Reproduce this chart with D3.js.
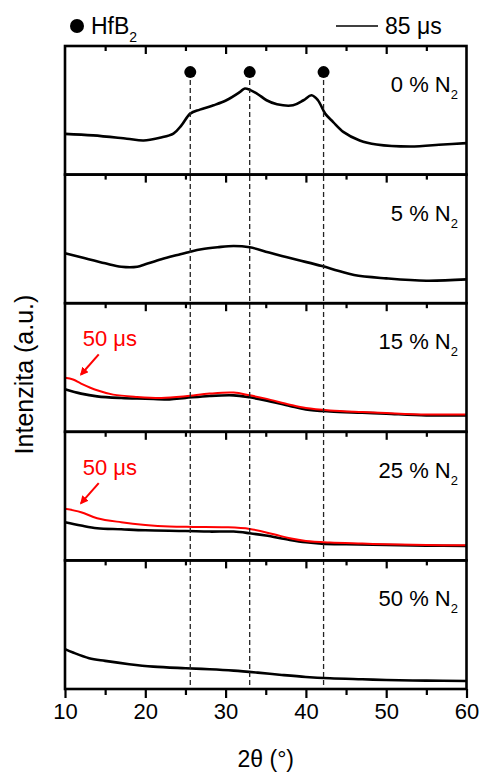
<!DOCTYPE html>
<html>
<head>
<meta charset="utf-8">
<script src="https://cdn.jsdelivr.net/npm/d3@7"></script>
<style>
  body { margin: 0; background: #fff; }
  svg text { font-family: "Liberation Sans", Arial, sans-serif; }
</style>
</head>
<body>
<svg id="chart" width="480" height="773"></svg>
<script>
// N2 content of each panel, top to bottom
var panelLabels = ["0", "5", "15", "25", "50"];

// 85 us pulses (black), [2theta, intensity a.u.]
var black0 = [[10,40.5],[13.5,39],[17.7,35.7],[19.8,34],[21.8,36.7],[23.5,40.7],[24.5,49],[25.6,60.7],
  [26.8,64.7],[28.5,69],[30.1,74],[31.8,82.3],[32.4,85.7],[33.9,80.7],[35.1,74],[36.4,70],[38.4,69],
  [39.7,74],[40.7,79],[41.5,74],[42.4,60.7],[43.4,52.3],[44.7,42.3],[46.7,34],[48.8,30],[53,28],[57.1,30],[60,31.3]];
var black5 = [[10,49.7],[12,45.7],[15,39.7],[17,36.3],[19,36.3],[20,38.7],[22,43.7],[24,48],[25.6,51.3],
  [27,53.7],[29,55.7],[31,57],[33,55.7],[35,51.3],[37,47],[39,43],[42,37],[44,32.3],[46,28],[50,24.7],[55,22.3],[60,23.7]];
var black15 = [[10,42.3],[12,38],[14,35.3],[17,33.7],[20,33],[23,32.3],[25,33.7],[28,35.7],[31,36.3],
  [33,34.3],[35,31.3],[38,25.7],[40,22.3],[43,20.3],[47,19],[50,18],[55,16.3],[60,16.3]];
var black25 = [[10,38],[12,34.7],[14,32],[17,31],[20,30],[25,29.3],[28,28.7],[31,28.7],[33,27],[35,24.7],
  [38,20.3],[40,18],[42,16.7],[45,16],[50,15.3],[55,14.7],[60,14.3]];
var black50 = [[10,39.7],[11,36.3],[13,30.7],[15,28],[18,24.7],[21,22.3],[25,20.7],[28,19.7],[31,18.3],
  [34,16.3],[37,14],[40,12],[43,10.7],[47,9.7],[50,9],[55,8.3],[60,8]];

// 50 us pulses (red)
var red15 = [[10,53.7],[11,52],[12,48],[14,41.3],[16,37],[19,34.7],[22,33.7],[25,35.3],[28,38],[31,39],
  [33,36.3],[35,33],[38,27],[40,23.7],[43,21.3],[47,19.7],[50,18.7],[55,17.3],[60,17.3]];
var red25 = [[10,51.3],[12,48],[14,42],[17,38],[20,35.3],[23,33.7],[26,33.3],[30,33],[33,31.3],[36,26],
  [38,22],[40,19.3],[43,17.7],[47,16.7],[50,16],[55,15.3],[60,15]];

var blackSeries = [black0, black5, black15, black25, black50];
var redSeries = [null, null, red15, red25, null];

// HfB2 reflections
var hfb2Peaks = [25.6, 33.0, 42.2];
var hfb2MarkY = 102;

var xMajor = [10, 20, 30, 40, 50, 60];
var xMinor = [15, 25, 35, 45, 55];

// red "50 us" note: text position and arrow, in data units
var noteText = "50 \u03bcs";
var notePos = [12.2, 85];
var arrowFrom = [14.2, 77];
var arrowTo = [12.0, 57];

var svg = d3.select("#chart");
var plotL = 65, plotR = 466.5, plotT = 46, plotB = 689;

var x = d3.scaleLinear().domain([10, 60]).range([plotL, plotR]);
var band = d3.scaleBand().domain(d3.range(panelLabels.length)).range([plotT, plotB]);
var yMax = 128;

svg.append("defs").append("marker")
    .attr("id", "arr")
    .attr("viewBox", "0 0 10 10")
    .attr("refX", 8).attr("refY", 5)
    .attr("markerWidth", 4.2).attr("markerHeight", 4.2)
    .attr("orient", "auto")
    .append("path").attr("d", "M0,0L10,5L0,10z").attr("fill", "#ff0000");

var line = d3.line().curve(d3.curveCatmullRom.alpha(0.5));

for (var i = 0; i < panelLabels.length; i++) {
    var y0 = band(i), h = band.bandwidth();
    var y = d3.scaleLinear().domain([0, yMax]).range([y0 + h, y0]);
    var g = svg.append("g");

    line.x(function(d) { return x(d[0]); }).y(function(d) { return y(d[1]); });

    g.append("path").datum(blackSeries[i])
        .attr("d", line).attr("fill", "none")
        .attr("stroke", "#000").attr("stroke-width", 2.6).attr("stroke-linejoin", "round");
    if (redSeries[i]) {
        g.append("path").datum(redSeries[i])
            .attr("d", line).attr("fill", "none")
            .attr("stroke", "#ff0000").attr("stroke-width", 2).attr("stroke-linejoin", "round");
        g.append("text")
            .attr("x", x(notePos[0])).attr("y", y(notePos[1]))
            .attr("font-size", 22).attr("fill", "#ff0000")
            .text(noteText);
        g.append("line")
            .attr("x1", x(arrowFrom[0])).attr("y1", y(arrowFrom[1]))
            .attr("x2", x(arrowTo[0])).attr("y2", y(arrowTo[1]))
            .attr("stroke", "#ff0000").attr("stroke-width", 2)
            .attr("marker-end", "url(#arr)");
    }

    // inside ticks along the top of each panel
    g.append("g").attr("transform", "translate(0," + y0 + ")")
        .call(d3.axisTop(x).tickValues(xMajor.slice(1, -1)).tickSize(-8).tickFormat(""))
        .call(function(a) { a.select(".domain").remove(); a.selectAll("line").attr("stroke-width", 2.2); });
    g.append("g").attr("transform", "translate(0," + y0 + ")")
        .call(d3.axisTop(x).tickValues(xMinor).tickSize(-5).tickFormat(""))
        .call(function(a) { a.select(".domain").remove(); a.selectAll("line").attr("stroke-width", 2.2); });

    var lab = g.append("text")
        .attr("x", 458).attr("y", y0 + 46)
        .attr("text-anchor", "end").attr("font-size", 22).attr("fill", "#000");
    lab.append("tspan").text(panelLabels[i] + " % N");
    lab.append("tspan").attr("font-size", 13).attr("dy", 7).text("2");
}

// HfB2 reference lines and markers
var markY = band(0) + band.bandwidth() * (1 - hfb2MarkY / yMax);
svg.selectAll(".ref").data(hfb2Peaks).enter().append("line")
    .attr("x1", function(d) { return x(d); }).attr("x2", function(d) { return x(d); })
    .attr("y1", markY).attr("y2", plotB)
    .attr("stroke", "#222").attr("stroke-width", 1.3).attr("stroke-dasharray", "5,3");
svg.selectAll(".dot").data(hfb2Peaks).enter().append("circle")
    .attr("cx", function(d) { return x(d); })
    .attr("cy", markY)
    .attr("r", 6).attr("fill", "#000");

// panel frames
for (var j = 0; j < panelLabels.length; j++) {
    svg.append("rect")
        .attr("x", plotL).attr("y", band(j))
        .attr("width", plotR - plotL).attr("height", band.bandwidth())
        .attr("fill", "none").attr("stroke", "#000").attr("stroke-width", 2.6);
}

// bottom axis
var xAxis = svg.append("g").attr("transform", "translate(0," + plotB + ")")
    .call(d3.axisBottom(x).tickValues(xMajor).tickSize(9).tickPadding(5).tickFormat(d3.format("d")));
xAxis.select(".domain").remove();
xAxis.selectAll("line").attr("stroke-width", 2.2);
xAxis.selectAll("text").attr("font-size", 22).attr("fill", "#000")
    .style("font-family", "'Liberation Sans', Arial, sans-serif");
svg.append("g").attr("transform", "translate(0," + plotB + ")")
    .call(d3.axisBottom(x).tickValues(xMinor).tickSize(6).tickFormat(""))
    .call(function(a) { a.select(".domain").remove(); a.selectAll("line").attr("stroke-width", 2.2); });

svg.append("text")
    .attr("x", (plotL + plotR) / 2).attr("y", 767)
    .attr("text-anchor", "middle").attr("font-size", 23)
    .text("2\u03b8 (\u00b0)");
svg.append("text")
    .attr("transform", "translate(33," + ((plotT + plotB) / 2 + 7) + ") rotate(-90)")
    .attr("text-anchor", "middle").attr("font-size", 25)
    .text("Intenzita (a.u.)");

// legend
svg.append("circle").attr("cx", 77).attr("cy", 26).attr("r", 7).attr("fill", "#000");
var hf = svg.append("text").attr("x", 91).attr("y", 34).attr("font-size", 23);
hf.append("tspan").text("HfB");
hf.append("tspan").attr("font-size", 14).attr("dy", 8).text("2");

svg.append("line").attr("x1", 336).attr("x2", 378).attr("y1", 26).attr("y2", 26)
    .attr("stroke", "#000").attr("stroke-width", 1.5);
svg.append("text").attr("x", 385).attr("y", 34).attr("font-size", 23).text("85 \u03bcs");
</script>
</body>
</html>
